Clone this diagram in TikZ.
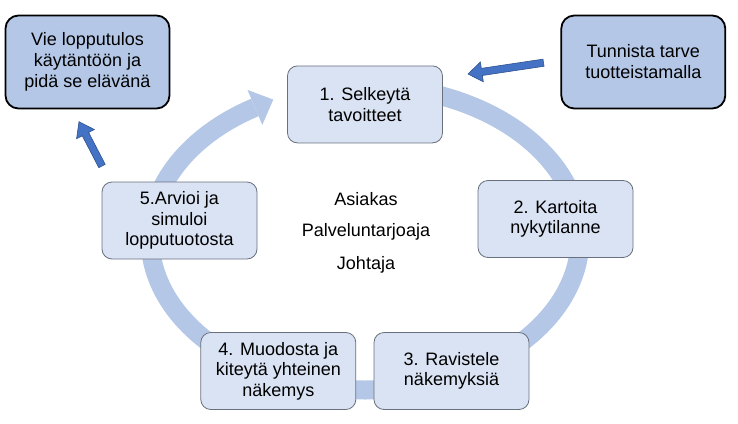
\documentclass[tikz,border=0pt]{standalone}
\usepackage{fontspec}
\setmainfont{Liberation Sans}
\usetikzlibrary{calc}
\definecolor{ringcol}{RGB}{180,199,231}
\definecolor{cyclefill}{RGB}{218,227,243}
\definecolor{cycleline}{RGB}{105,112,125}
\definecolor{topfill}{RGB}{180,199,231}
\definecolor{arrfill}{RGB}{68,114,196}
\definecolor{arrline}{RGB}{47,82,143}
\tikzset{
  cyclebox/.style={draw=cycleline, line width=0.8pt, fill=cyclefill, rounded corners=10pt,
    minimum width=155pt, minimum height=77pt, align=center, inner sep=0pt,
    font=\fontsize{18}{20.5}\selectfont},
  topbox/.style={draw=black, line width=1.8pt, fill=topfill, rounded corners=13pt,
    minimum width=164pt, minimum height=93pt, align=center, inner sep=0pt,
    font=\fontsize{18}{21}\selectfont},
  centertext/.style={inner sep=0pt, font=\fontsize{18}{20.5}\selectfont},
  blockarrow/.style={fill=arrfill, draw=arrline, line width=0.6pt, line join=miter},
}
\newcommand\blkarrow[2]{%
  \coordinate (h#1) at ($(#2)!14pt!(#1)$);
  \filldraw[blockarrow] ($(#1)!3.6pt!90:(#2)$) -- ($(h#1)!3.6pt!90:(#2)$) -- ($(h#1)!10pt!90:(#2)$)
    -- (#2) -- ($(h#1)!10pt!-90:(#2)$) -- ($(h#1)!3.6pt!-90:(#2)$) -- ($(#1)!3.6pt!-90:(#2)$) -- cycle;}
\begin{document}
\begin{tikzpicture}[x=1pt,y=1pt]
\useasboundingbox (0,0) rectangle (738,-423);
% ring
\draw[ringcol, line width=19pt] (365,-86) arc[start angle=90, end angle=-239.2, x radius=215, y radius=152];
\fill[ringcol] (247.5,-89.9) -- (273.3,-99.6) -- (262.3,-124.9) -- cycle;
% cycle boxes
\node[cyclebox] (s1) at (365,-104.4) {1. Selkeytä\\tavoitteet};
\node[cyclebox] (s2) at (555.5,-219) {2. Kartoita\\nykytilanne};
\node[cyclebox] (s3) at (451.5,-371) {3. Ravistele\\näkemyksiä};
\node[cyclebox] (s4) at (278.3,-371) {4. Muodosta ja\\kiteytä yhteinen\\näkemys};
\node[cyclebox] (s5) at (179.5,-220.5) {5.Arvioi ja\\simuloi\\lopputuotosta};
% centre texts
\node[centertext] (c1) at (366,-199) {Asiakas};
\node[centertext] (c2) at (366,-232) {Palveluntarjoaja};
\node[centertext] (c3) at (366,-265) {Johtaja};
% top boxes
\node[topbox] (tl) at (87.5,-62) {Vie lopputulos\\käytäntöön ja\\pidä se elävänä};
\node[topbox] (tr) at (643.3,-62) {Tunnista tarve\\tuotteistamalla};
% block arrows
\coordinate (atail) at (543.5,-62.7);
\coordinate (ahead) at (468,-74);
\coordinate (btail) at (102,-166);
\coordinate (bhead) at (79,-121.7);
\blkarrow{atail}{ahead}
\blkarrow{btail}{bhead}
\end{tikzpicture}
\end{document}
